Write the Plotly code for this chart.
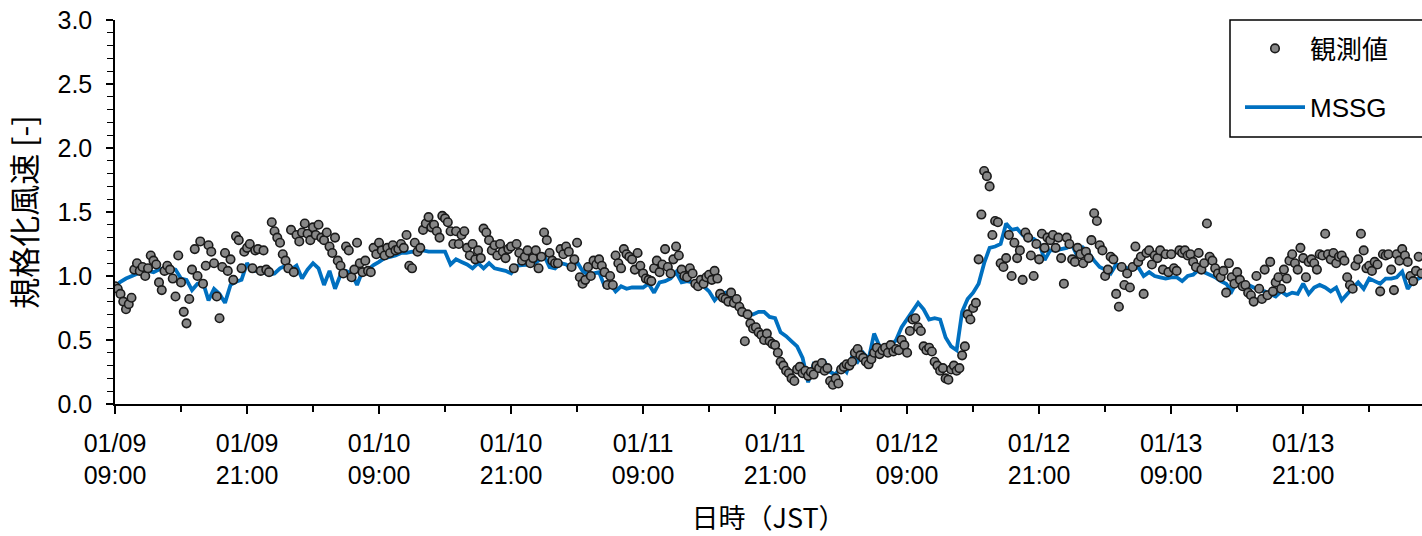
import plotly.graph_objects as go

# ---- data (hours since 01/09 09:00 JST) ----
obs_step_h = 0.25   # observation interval [h]
obs_values = [
    0.92,0.90,0.86,0.80, 0.74,0.78,0.83,1.05, 1.10,1.04,1.07,1.00, 1.06,1.16,1.12,1.09, 0.95,0.89,1.04,1.08, 1.05,0.98,0.84,1.16,
    0.95,0.72,0.63,0.82, 1.05,1.21,1.00,1.27, 0.94,1.08,1.24,1.19, 1.10,0.84,0.67,1.07, 1.18,1.04,1.13,0.97, 1.31,1.28,1.06,1.19,
    1.22,1.25,1.06,1.20, 1.21,1.04,1.20,1.05, 1.03,1.42,1.35,1.30, 1.26,1.17,1.12,1.06, 1.36,1.03,1.32,1.27, 1.34,1.41,1.33,1.28,
    1.38,1.32,1.40,1.30, 1.28,1.34,1.23,1.18, 1.30,1.12,1.08,1.02, 1.23,1.20,0.99,1.05, 1.26,1.10,1.03,1.12, 1.04,1.03,1.22,1.17,
    1.26,1.20,1.16,1.22, 1.18,1.24,1.20,1.21, 1.25,1.22,1.32,1.08, 1.06,1.26,1.19,1.22, 1.36,1.41,1.46,1.38, 1.40,1.35,1.30,1.47,
    1.45,1.42,1.35,1.25, 1.35,1.25,1.32,1.35, 1.22,1.16,1.25,1.13, 1.20,1.14,1.37,1.34, 1.28,1.20,1.24,1.16, 1.25,1.19,1.14,1.21,
    1.23,1.06,1.25,1.18, 1.12,1.15,1.20,1.10, 1.14,1.20,1.06,1.15, 1.34,1.28,1.18,1.12, 1.10,1.10,1.21,1.17, 1.23,1.19,1.07,1.13,
    1.26,0.99,0.94,0.97, 1.07,1.00,1.12,1.09, 1.13,1.08,1.03,0.93, 1.00,0.93,1.16,1.10, 1.06,1.21,1.17,1.15, 1.13,1.05,1.18,1.08,
    1.02,0.98,0.97,0.96, 1.06,1.12,1.03,1.09, 1.21,1.07,1.02,1.13, 1.23,1.16,1.05,1.00, 0.99,1.06,1.02,0.94, 0.92,0.97,0.94,0.99,
    1.01,0.97,1.04,0.98, 0.86,0.83,0.82,0.80, 0.87,0.79,0.82,0.76, 0.72,0.49,0.70,0.63, 0.59,0.60,0.56,0.54, 0.50,0.55,0.49,0.47,
    0.46,0.40,0.33,0.30, 0.26,0.24,0.20,0.18, 0.27,0.29,0.24,0.26, 0.22,0.25,0.23,0.30, 0.28,0.32,0.26,0.28, 0.18,0.15,0.20,0.16,
    0.27,0.29,0.31,0.30, 0.33,0.40,0.43,0.38, 0.36,0.33,0.31,0.35, 0.40,0.44,0.39,0.42, 0.44,0.40,0.46,0.41, 0.43,0.42,0.50,0.46,
    0.40,0.57,0.66,0.67, 0.60,0.57,0.45,0.42, 0.44,0.41,0.33,0.30, 0.26,0.28,0.20,0.19, 0.27,0.30,0.26,0.28, 0.38,0.45,0.70,0.66,
    0.75,0.79,1.13,1.48, 1.82,1.78,1.70,1.32, 1.43,1.42,1.10,1.07, 1.14,1.32,1.00,1.26, 1.14,1.20,0.97,1.34, 1.30,1.16,1.00,1.25,
    1.13,1.33,1.22,1.30, 1.28,1.32,1.22,1.30, 1.14,0.94,1.30,1.25, 1.13,1.11,1.22,1.17, 1.10,1.19,1.14,1.28, 1.49,1.43,1.24,1.20,
    1.00,1.05,1.15,1.13, 0.86,0.76,1.07,0.93, 1.02,0.91,1.07,1.23, 1.11,1.15,0.86,1.18, 1.20,1.09,1.16,1.14, 1.20,1.05,1.17,1.03,
    1.17,1.06,1.04,1.20, 1.18,1.20,1.16,1.17, 1.11,1.07,1.18,1.05, 1.10,1.41,1.15,1.12, 1.06,1.02,0.99,1.04, 0.87,1.10,0.99,0.94,
    1.03,0.97,0.92,0.93, 0.87,0.85,0.80,1.00, 0.90,0.82,1.05,0.85, 1.11,0.88,0.95,0.99, 0.90,1.05,0.98,1.12, 1.17,1.10,1.05,1.22,
    1.14,0.99,1.11,1.13, 1.10,1.05,1.17,1.16, 1.33,1.17,1.13,1.18, 1.10,1.15,1.16,1.12, 0.99,0.93,0.90,1.08, 1.13,1.33,1.20,1.06,
    1.08,1.04,1.11,1.09, 0.88,1.17,1.16,1.17, 1.05,0.89,1.17,1.12, 1.21,1.16,1.11,1.00, 0.96,1.04,1.15,1.02,
]

mssg_step_h = 0.5   # model output interval [h]
mssg_values = [
    0.92,0.955,0.98,1.00,1.02,1.035,1.04,1.03,1.05,1.06,1.06,1.05,
    0.98,0.97,0.89,0.94,0.95,0.81,0.90,0.86,0.79,0.93,0.955,0.97,
    1.10,1.04,1.04,1.03,1.01,1.02,1.06,1.08,1.05,1.08,0.98,1.05,
    1.10,1.06,0.93,1.04,0.90,1.01,1.04,1.02,0.93,1.04,1.05,1.085,
    1.11,1.14,1.15,1.16,1.18,1.18,1.19,1.18,1.20,1.19,1.19,1.19,
    1.19,1.09,1.13,1.11,1.09,1.06,1.10,1.06,1.10,1.06,1.05,1.04,
    1.02,1.08,1.085,1.085,1.09,1.12,1.16,1.07,1.06,1.10,1.09,1.06,
    1.11,1.04,1.01,1.02,1.03,0.92,0.94,0.88,0.92,0.90,0.91,0.91,
    0.91,0.94,0.87,0.95,0.96,0.98,1.03,0.95,0.96,0.95,0.94,0.92,
    0.88,0.81,0.86,0.87,0.83,0.80,0.75,0.70,0.70,0.72,0.72,0.68,
    0.67,0.56,0.53,0.49,0.45,0.36,0.17,0.31,0.28,0.33,0.25,0.23,
    0.30,0.25,0.37,0.33,0.40,0.35,0.55,0.45,0.41,0.45,0.50,0.60,
    0.66,0.72,0.79,0.74,0.66,0.67,0.66,0.52,0.45,0.42,0.72,0.82,
    0.87,0.94,1.10,1.22,1.23,1.25,1.41,1.36,1.37,1.32,1.28,1.29,
    1.26,1.125,1.20,1.20,1.21,1.22,1.24,1.15,1.22,1.18,1.12,1.07,
    1.05,1.02,1.09,1.08,1.06,1.05,1.07,1.00,1.03,1.00,0.99,0.98,
    0.99,0.99,0.96,1.00,1.01,1.05,1.03,1.01,0.99,0.96,0.94,0.88,
    0.96,0.95,0.93,0.91,0.89,0.88,0.86,0.84,0.88,0.85,0.87,0.86,
    0.94,0.86,0.91,0.93,0.91,0.88,0.91,0.81,0.86,0.90,0.95,0.90,
    0.98,0.96,0.94,0.98,0.98,0.99,1.035,0.90,0.96,0.98,1.00,
]

tick_hours = [0, 12, 24, 36, 48, 60, 72, 84, 96, 108]
tick_labels = ["01/09<br>09:00", "01/09<br>21:00", "01/10<br>09:00", "01/10<br>21:00",
               "01/11<br>09:00", "01/11<br>21:00", "01/12<br>09:00", "01/12<br>21:00",
               "01/13<br>09:00", "01/13<br>21:00"]
x_end_h = 118.8

obs_hours = [i * obs_step_h for i in range(len(obs_values))]
mssg_hours = [i * mssg_step_h for i in range(len(mssg_values))]

FONT = "Liberation Sans, Noto Sans CJK JP, sans-serif"
JFONT = "Noto Sans CJK JP, sans-serif"

W, H = 1422, 536
ML, MR, MT, MB = 115, 0, 20, 132
plot_w, plot_h = W - ML - MR, H - MT - MB

fig = go.Figure()
fig.add_trace(go.Scatter(
    x=mssg_hours, y=mssg_values, mode="lines", name="MSSG",
    line=dict(color="#0070C0", width=3.8), legendgroup="b", legendrank=2,
    hoverinfo="skip"))
fig.add_trace(go.Scatter(
    x=obs_hours, y=obs_values, mode="markers", name="観測値",
    marker=dict(size=8.5, color="#878787", line=dict(color="#1a1a1a", width=1.6)),
    legendgroup="a", legendrank=1, hoverinfo="skip"))

axis_common = dict(showgrid=False, zeroline=False, tickcolor="black", tickwidth=1.5,
                   automargin=False)

# legend frame (extends past the right edge as in the reference)
fig.add_shape(type="rect", xref="paper", yref="paper",
              x0=(1230 - ML) / plot_w, x1=1.05,
              y0=(H - MB - 137) / plot_h, y1=1.0,
              line=dict(color="black", width=1.5), fillcolor="white", layer="below")

fig.update_layout(
    width=W, height=H,
    margin=dict(l=ML, r=MR, t=MT, b=MB, autoexpand=False),
    paper_bgcolor="white", plot_bgcolor="rgba(0,0,0,0)",
    font=dict(family=FONT, size=25, color="black"),
    showlegend=True,
    legend=dict(x=(1240 - ML) / plot_w, y=0.987, xanchor="left", yanchor="top",
                borderwidth=0, bgcolor="rgba(0,0,0,0)",
                font=dict(family=FONT, size=26), traceorder="grouped",
                tracegroupgap=22, itemwidth=60),
    xaxis=dict(range=[0, x_end_h], tickmode="array", tickvals=tick_hours, ticktext=tick_labels,
               ticks="outside", ticklen=8, showline=True, linecolor="black", linewidth=1.5,
               tickfont=dict(family=FONT, size=25), ticklabelstandoff=8,
               minor=dict(ticks="outside", dtick=6, tick0=0, ticklen=6, tickcolor="black", tickwidth=1.5),
               title=dict(text="日時（JST）", font=dict(family=JFONT, size=27), standoff=34),
               **axis_common),
    xaxis2=dict(range=[0, x_end_h], overlaying="x", anchor="y", side="bottom",
                tickmode="array", tickvals=tick_hours, showticklabels=False,
                ticks="inside", ticklen=8, showline=False,
                minor=dict(ticks="inside", dtick=6, tick0=0, ticklen=6, tickcolor="black", tickwidth=1.5),
                **axis_common),
    yaxis=dict(range=[0, 3.0], tickmode="linear", tick0=0, dtick=0.5, tickformat=".1f",
               ticks="outside", ticklen=7, showline=True, linecolor="black", linewidth=1.5,
               tickfont=dict(family=FONT, size=25), ticklabelstandoff=9,
               minor=dict(ticks="outside", dtick=0.1, ticklen=6, tickcolor="black", tickwidth=1.2),
               title=dict(text="規格化風速 [-]", font=dict(family=JFONT, size=31), standoff=20),
               **axis_common),
    yaxis2=dict(range=[0, 3.0], overlaying="y", anchor="x", side="left",
                tickmode="linear", tick0=0, dtick=0.5, showticklabels=False,
                ticks="inside", ticklen=7, showline=False,
                minor=dict(ticks="inside", dtick=0.1, ticklen=6, tickcolor="black", tickwidth=1.2),
                **axis_common),
)

fig.write_html("out.html", config={"displayModeBar": False})

# remove the browser's default page margin so the figure fills the window exactly
with open("out.html", "r", encoding="utf-8") as f:
    html = f.read()
html = html.replace("<body>", '<body style="margin:0;padding:0;overflow:hidden">', 1)
with open("out.html", "w", encoding="utf-8") as f:
    f.write(html)
